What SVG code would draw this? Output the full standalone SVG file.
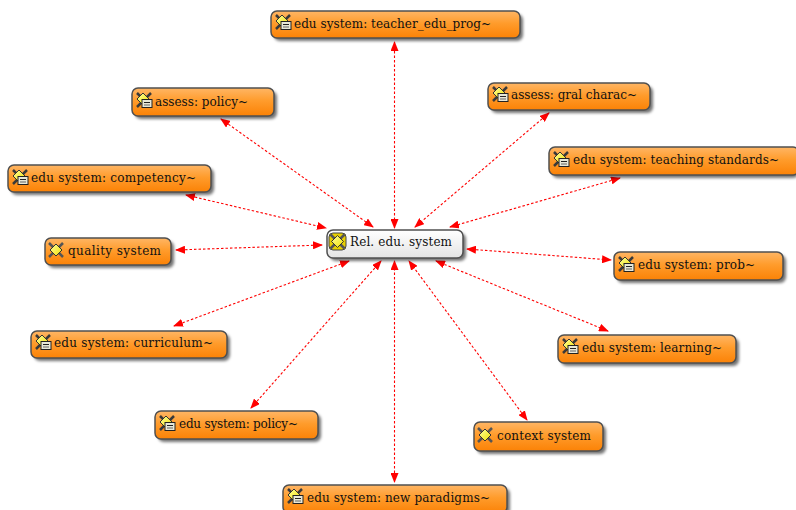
<svg xmlns="http://www.w3.org/2000/svg" width="796" height="510" viewBox="0 0 796 510">
<defs>
<linearGradient id="og" x1="0" y1="0" x2="0" y2="1"><stop offset="0" stop-color="#ffb665"/><stop offset="0.45" stop-color="#ff9c2c"/><stop offset="1" stop-color="#fb8206"/></linearGradient>
<linearGradient id="wg" x1="0" y1="0" x2="0" y2="1"><stop offset="0" stop-color="#ffffff"/><stop offset="1" stop-color="#e4e4e4"/></linearGradient>
<linearGradient id="yg" x1="0" y1="0" x2="1" y2="1"><stop offset="0" stop-color="#ffffa0"/><stop offset="1" stop-color="#f0e000"/></linearGradient>
<filter id="sh" x="-10%" y="-30%" width="120%" height="170%"><feGaussianBlur stdDeviation="1.5"/></filter>
<marker id="ah" viewBox="0 0 10 8" refX="9" refY="4" markerWidth="10" markerHeight="8" markerUnits="userSpaceOnUse" orient="auto-start-reverse"><path d="M0 0L10 4L0 8Z" fill="#ff0000"/></marker>
<g id="ic-dia"><path d="M1 1L5 5M15 1L11 5M1 15L5 11M15 15L11 11" stroke="#555" stroke-width="2.500"/><path d="M8 2L14 8L8 14L2 8Z" fill="url(#yg)" stroke="#333" stroke-width="1"/></g>
<g id="ic-doc"><path d="M1 1L15 15M15 1L1 15" stroke="#3a3a3a" stroke-width="2.500"/><path d="M7 1L13 7L7 13L1 7Z" fill="url(#yg)" stroke="#333"/><rect x="6" y="7.500" width="10" height="8" fill="#e8e8d8" stroke="#222"/><path d="M8 10.500H14" stroke="#222"/><path d="M8 13H14" stroke="#666"/></g>
</defs>
<style>
.b{stroke:#505050;stroke-width:1.500}
.o{fill:url(#og)}
.s{fill:#000;opacity:.55;filter:url(#sh)}
text{font-family:"DejaVu Serif","Liberation Serif",serif;font-size:12px;fill:#111}
#connectors line{stroke:#ff0000;stroke-width:1.100;stroke-dasharray:2.500 2;marker-start:url(#ah);marker-end:url(#ah)}
</style>
<g id="connectors">
<line x1="394.500" y1="42" x2="394.500" y2="228"/>
<line x1="221" y1="119" x2="373" y2="227"/>
<line x1="549" y1="113" x2="415" y2="227"/>
<line x1="186" y1="195" x2="326" y2="228"/>
<line x1="620" y1="178" x2="450" y2="227"/>
<line x1="176" y1="250" x2="322" y2="245"/>
<line x1="467" y1="249" x2="611" y2="260"/>
<line x1="174" y1="326" x2="349" y2="261"/>
<line x1="436" y1="261" x2="608" y2="331"/>
<line x1="251" y1="408" x2="381" y2="261"/>
<line x1="527" y1="420" x2="409" y2="261"/>
<line x1="394.500" y1="482" x2="394.500" y2="261"/>
</g>
<g id="n1"><rect class="s" x="274" y="14" width="249" height="27" rx="6"/><rect class="b o" x="271" y="11" width="249" height="27" rx="6"/><use href="#ic-doc" x="275" y="14"/><text x="294" y="28" textLength="197">edu system: teacher_edu_prog~</text></g>
<g id="n2"><rect class="s" x="135" y="91" width="142" height="28" rx="6"/><rect class="b o" x="132" y="88" width="142" height="28" rx="6"/><use href="#ic-doc" x="136" y="92"/><text x="155" y="106" textLength="93">assess: policy~</text></g>
<g id="n3"><rect class="s" x="491" y="86" width="162" height="27" rx="6"/><rect class="b o" x="488" y="83" width="162" height="27" rx="6"/><use href="#ic-doc" x="492" y="86"/><text x="511" y="99" textLength="126">assess: gral charac~</text></g>
<g id="n4"><rect class="s" x="11" y="168" width="203" height="27" rx="6"/><rect class="b o" x="8" y="165" width="203" height="27" rx="6"/><use href="#ic-doc" x="12" y="169"/><text x="31" y="182" textLength="165">edu system: competency~</text></g>
<g id="n5"><rect class="s" x="552" y="150" width="247" height="28" rx="6"/><rect class="b o" x="549" y="147" width="250" height="28" rx="6"/><use href="#ic-doc" x="553" y="151"/><text x="573" y="164" textLength="206">edu system: teaching standards~</text></g>
<g id="n6"><rect class="s" x="48" y="241" width="126" height="27" rx="6"/><rect class="b o" x="45" y="238" width="126" height="27" rx="6"/><use href="#ic-dia" x="48" y="242"/><text x="68" y="255" textLength="93">quality system</text></g>
<g id="n7"><rect class="s" x="330" y="233" width="136" height="28" rx="6"/><rect class="b" fill="url(#wg)" x="327" y="230" width="136" height="28" rx="6"/><rect x="329" y="233" width="17" height="17" rx="4" fill="#e8d000" stroke="#444"/><use href="#ic-dia" x="329.500" y="233.500"/><text x="350" y="246" textLength="102">Rel. edu. system</text></g>
<g id="n8"><rect class="s" x="617" y="255" width="169" height="28" rx="6"/><rect class="b o" x="614" y="252" width="169" height="28" rx="6"/><use href="#ic-doc" x="618" y="256"/><text x="638" y="269" textLength="117">edu system: prob~</text></g>
<g id="n9"><rect class="s" x="34" y="334" width="196" height="27" rx="6"/><rect class="b o" x="31" y="331" width="196" height="27" rx="6"/><use href="#ic-doc" x="35" y="334"/><text x="54" y="347" textLength="159">edu system: curriculum~</text></g>
<g id="n10"><rect class="s" x="561" y="338" width="178" height="28" rx="6"/><rect class="b o" x="558" y="335" width="178" height="28" rx="6"/><use href="#ic-doc" x="562" y="338"/><text x="582" y="352" textLength="140">edu system: learning~</text></g>
<g id="n11"><rect class="s" x="158" y="414" width="163" height="28" rx="6"/><rect class="b o" x="155" y="411" width="163" height="28" rx="6"/><use href="#ic-doc" x="159" y="415"/><text x="179" y="428" textLength="119">edu system: policy~</text></g>
<g id="n12"><rect class="s" x="477" y="425" width="129" height="29" rx="6"/><rect class="b o" x="474" y="422" width="129" height="29" rx="6"/><use href="#ic-dia" x="477" y="427"/><text x="497" y="440" textLength="94">context system</text></g>
<g id="n13"><rect class="s" x="286" y="488" width="224" height="28" rx="6"/><rect class="b o" x="283" y="485" width="224" height="28" rx="6"/><use href="#ic-doc" x="287" y="488"/><text x="307" y="502" textLength="183">edu system: new paradigms~</text></g>
</svg>
